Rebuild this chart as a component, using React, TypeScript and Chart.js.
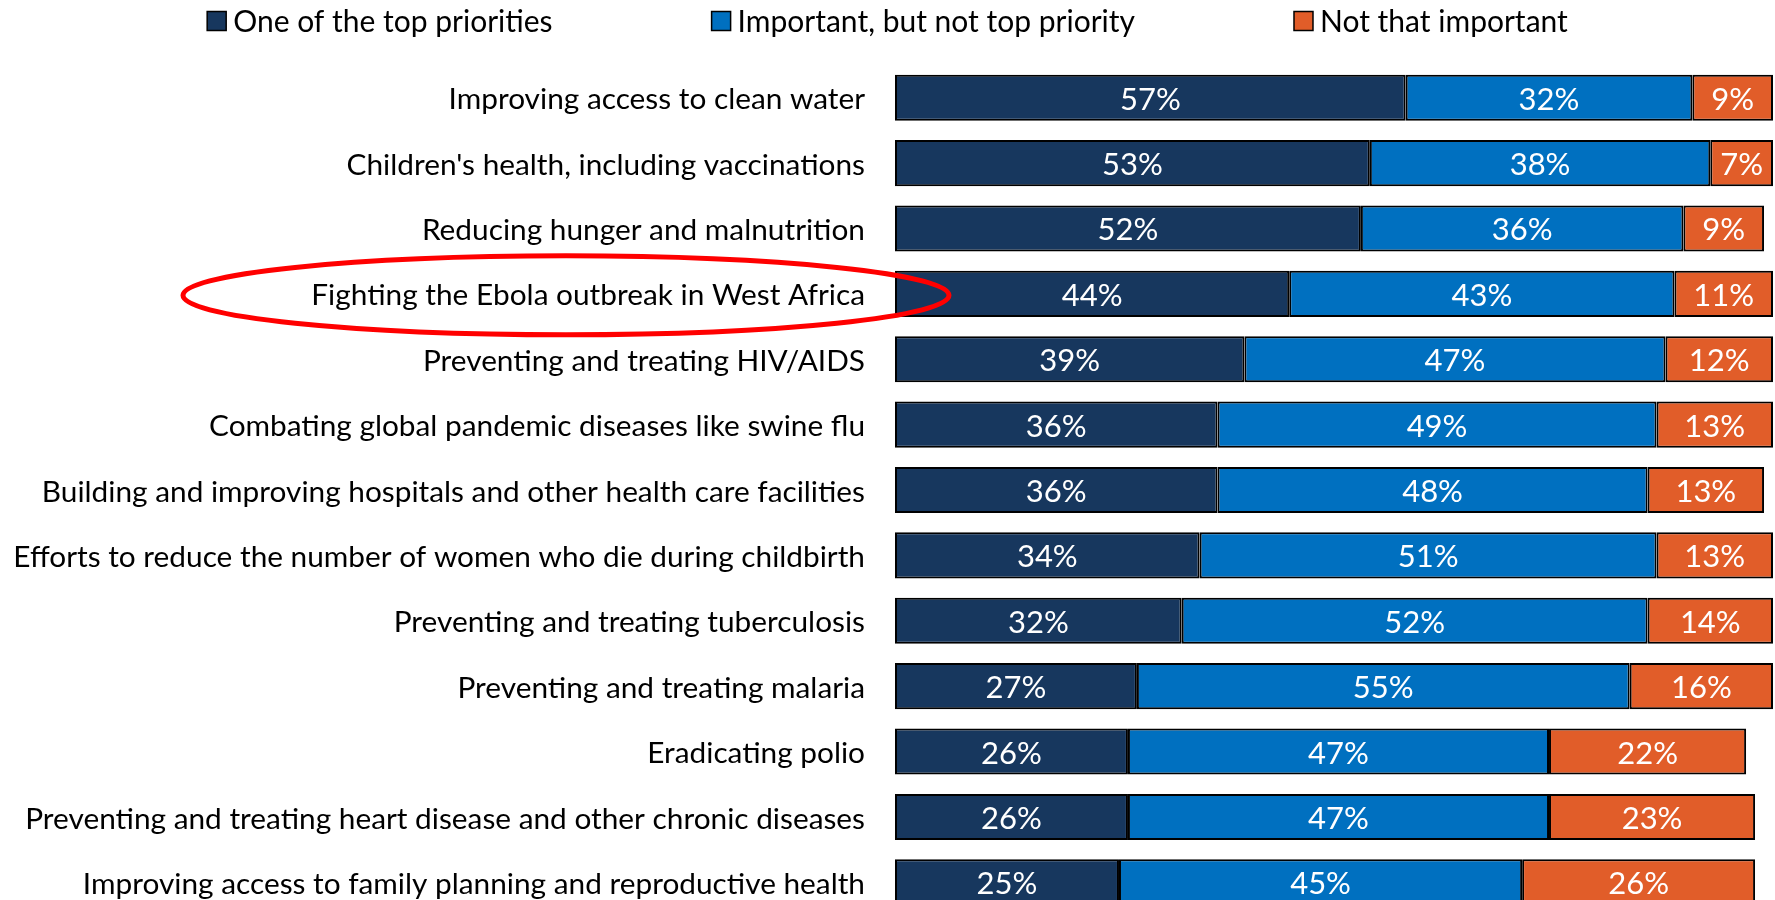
import React, { useEffect, useRef } from "react";
import { Chart, registerables } from "chart.js";

Chart.register(...registerables);

const categories = [
  "Improving access to clean water",
  "Children's health, including vaccinations",
  "Reducing hunger and malnutrition",
  "Fighting the Ebola outbreak in West Africa",
  "Preventing and treating HIV/AIDS",
  "Combating global pandemic diseases like swine flu",
  "Building and improving hospitals and other health care facilities",
  "Efforts to reduce the number of women who die during childbirth",
  "Preventing and treating tuberculosis",
  "Preventing and treating malaria",
  "Eradicating polio",
  "Preventing and treating heart disease and other chronic diseases",
  "Improving access to family planning and reproductive health",
];

const seriesNames = ["One of the top priorities", "Important, but not top priority", "Not that important"];
const topPriority = [57, 53, 52, 44, 39, 36, 36, 34, 32, 27, 26, 26, 25];
const importantNotTop = [32, 38, 36, 43, 47, 49, 48, 51, 52, 55, 47, 47, 45];
const notImportant = [9, 7, 9, 11, 12, 13, 13, 13, 14, 16, 22, 23, 26];
const seriesColors = ["#17375E", "#0070C0", "#E15D29"];
const highlightedIndex = 3;

const FONT = "Lato";

export default function App() {
  const ref = useRef<HTMLCanvasElement | null>(null);

  useEffect(() => {
    if (!ref.current) return;

    const labelsPlugin = {
      id: "segLabels",
      afterDatasetsDraw(chart: any) {
        const ctx = chart.ctx;
        ctx.save();
        ctx.font = `31px ${FONT}`;
        ctx.fillStyle = "#ffffff";
        ctx.textAlign = "center";
        ctx.textBaseline = "middle";
        chart.data.datasets.forEach((ds: any, di: number) => {
          const meta = chart.getDatasetMeta(di);
          meta.data.forEach((el: any, i: number) => {
            const v = ds.data[i];
            const cx = (el.x + el.base) / 2;
            ctx.fillText(`${v}%`, cx, el.y + 2);
          });
        });
        ctx.restore();
      },
    };

    const ellipsePlugin = {
      id: "ellipse",
      afterDatasetsDraw(chart: any) {
        const ctx = chart.ctx;
        const y = chart.scales.y.getPixelForValue(highlightedIndex);
        const x0 = chart.scales.x.getPixelForValue(0);
        ctx.save();
        ctx.beginPath();
        ctx.ellipse(x0 - 329, y + 1.5, 383, 39.5, 0, 0, Math.PI * 2);
        ctx.strokeStyle = "#FF0000";
        ctx.lineWidth = 5;
        ctx.stroke();
        ctx.restore();
      },
    };

    const legendPlugin = {
      id: "customLegend",
      afterDraw(chart: any) {
        const ctx = chart.ctx;
        ctx.save();
        ctx.font = `30px ${FONT}`;
        const box = 19;
        const gapText = 7;
        const gapItem = 159;
        const widths = seriesNames.map((n) => box + gapText + ctx.measureText(n).width);
        const total = widths.reduce((a, b) => a + b, 0) + gapItem * (seriesNames.length - 1);
        let x = (chart.width - total) / 2;
        seriesNames.forEach((n, i) => {
          ctx.fillStyle = seriesColors[i];
          ctx.fillRect(x, 11.5, box, box);
          ctx.strokeStyle = "#000";
          ctx.lineWidth = 1.5;
          ctx.strokeRect(x, 11.5, box, box);
          ctx.fillStyle = "#000";
          ctx.textBaseline = "alphabetic";
          ctx.textAlign = "left";
          ctx.fillText(n, x + box + gapText, 32);
          x += widths[i] + gapItem;
        });
        ctx.restore();
      },
    };

    const chart = new Chart(ref.current, {
      type: "bar",
      data: {
        labels: categories,
        datasets: [topPriority, importantNotTop, notImportant].map((d, i) => ({
          label: seriesNames[i],
          data: d,
          backgroundColor: seriesColors[i],
          borderColor: "#000000",
          borderWidth: 2,
          borderSkipped: false,
          categoryPercentage: 1,
          barPercentage: 0.705,
        })),
      },
      options: {
        indexAxis: "y",
        responsive: false,
        animation: false,
        devicePixelRatio: 1,
        layout: { padding: { top: 65, bottom: 0, left: 0, right: 2 } },
        plugins: {
          legend: { display: false },
          tooltip: { enabled: false },
        },
        scales: {
          x: {
            stacked: true,
            min: 0,
            max: 98,
            display: false,
          },
          y: {
            stacked: true,
            grid: { display: false, drawTicks: false },
            border: { display: false },
            ticks: {
              font: { family: FONT, size: 29.8 },
              color: "#000000",
              padding: 30,
              labelOffset: 2,
            },
            afterFit: (scale: any) => {
              scale.width = 895;
              scale.paddingTop = 0;
              scale.paddingBottom = 0;
            },
          },
        },
      },
      plugins: [labelsPlugin, ellipsePlugin, legendPlugin],
    });

    return () => chart.destroy();
  }, []);

  return (
    <div
      style={{
        position: "fixed",
        left: 0,
        top: 0,
        width: 1775,
        height: 900,
        overflow: "hidden",
        background: "#ffffff",
      }}
    >
      <canvas ref={ref} width={1775} height={915} style={{ width: 1775, height: 915, display: "block" }} />
    </div>
  );
}
